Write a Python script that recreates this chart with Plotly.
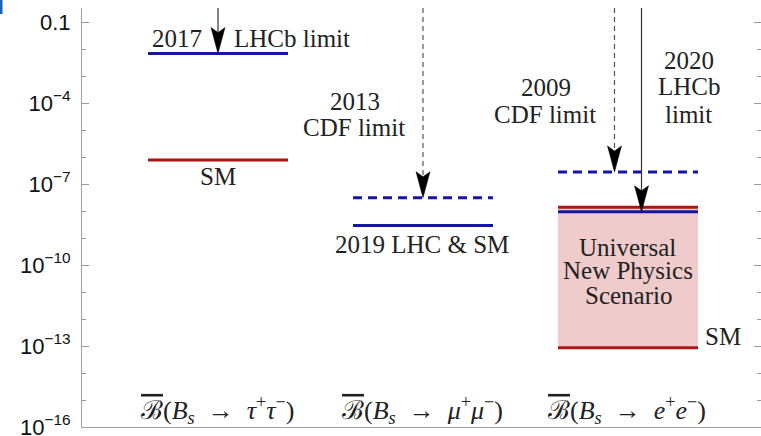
import plotly.graph_objects as go

# ---------------- data ----------------
categories = ["tau", "mu", "e"]
cat_pos = [0, 1, 2]
SP = "\u2002"
cat_labels = [
    "<span style='text-decoration:overline'>ℬ</span>(<i>B<sub>s</sub></i>" + SP + "→" + SP + "<i>τ</i><sup>+</sup><i>τ</i><sup>−</sup>)",
    "<span style='text-decoration:overline'>ℬ</span>(<i>B<sub>s</sub></i>" + SP + "→" + SP + "<i>μ</i><sup>+</sup><i>μ</i><sup>−</sup>)",
    "<span style='text-decoration:overline'>ℬ</span>(<i>B<sub>s</sub></i>" + SP + "→" + SP + "<i>e</i><sup>+</sup><i>e</i><sup>−</sup>)",
]
tau_lhcb_2017 = 6.8e-3
tau_sm = 7.7e-7
mu_cdf_2013 = 3.1e-8
mu_lhc_sm_2019 = 2.9e-9
e_cdf_2009 = 2.8e-7
e_lhcb_2020 = 9.4e-9
e_unp_upper = 1.37e-8
e_sm = 8.6e-14

tick_vals = [1e-1, 1e-4, 1e-7, 1e-10, 1e-13, 1e-16]
tick_text = ["0.1", "10<sup>−4</sup>", "10<sup>−7</sup>", "10<sup>−10</sup>",
             "10<sup>−13</sup>", "10<sup>−16</sup>"]
minor_vals = [10.0 ** -k for k in range(0, 17)]

# ---------------- styling / layout ----------------
BLUE = "#1515A8"
RED = "#B01515"
FILL = "#EFCBCB"
W, H = 761, 436
ML, MR, MT, MB = 82, 0, 8, 9
PW, PH = W - ML - MR, H - MT - MB
X_UNIT = 205.0          # pixels per category
X0_PIX = 218.0          # pixel x of category 0
LOG_MIN, LOG_MAX = -16, -0.48
PX_PER_DEC = PH / (LOG_MAX - LOG_MIN)
HALF = 70 / X_UNIT      # segment half width

def xp(pix):            # pixel x -> data x
    return (pix - X0_PIX) / X_UNIT

def yp(pix):            # pixel y -> paper y
    return (H - MB - pix) / PH

fig = go.Figure()

# shaded universal NP band
c = cat_pos[2]
fig.add_trace(go.Scatter(
    x=[c - HALF, c + HALF, c + HALF, c - HALF, c - HALF],
    y=[e_sm, e_sm, e_unp_upper, e_unp_upper, e_sm],
    fill="toself", fillcolor=FILL, line=dict(width=0), mode="lines",
    hoverinfo="skip", showlegend=False))

segments = [
    (0, tau_lhcb_2017, BLUE, "solid"),
    (0, tau_sm, RED, "solid"),
    (1, mu_cdf_2013, BLUE, "9px,6px"),
    (1, mu_lhc_sm_2019, BLUE, "solid"),
    (2, e_cdf_2009, BLUE, "9px,6px"),
    (2, e_unp_upper, RED, "solid"),
    (2, e_lhcb_2020, BLUE, "solid"),
    (2, e_sm, RED, "solid"),
]
for ci, v, col, dash in segments:
    xc = cat_pos[ci]
    fig.add_trace(go.Scatter(
        x=[xc - HALF, xc + HALF], y=[v, v], mode="lines",
        line=dict(color=col, width=3, dash=dash),
        hoverinfo="skip", showlegend=False))

# arrows: (category, pixel offset, target value, dashed?)
arrows = [
    (0, 0.0, tau_lhcb_2017, False),
    (1, 0.0, mu_cdf_2013, True),
    (2, -13.5, e_cdf_2009, True),
    (2, 13.5, e_lhcb_2020, False),
]
HEAD_LEN, HEAD_NOTCH, HEAD_HW = 26.0, 21.0, 7.0
k_back = 10 ** (HEAD_LEN / PX_PER_DEC)
k_notch = 10 ** (HEAD_NOTCH / PX_PER_DEC)
top_val = 10 ** LOG_MAX
for ci, off, v, dashed in arrows:
    xa = cat_pos[ci] + off / X_UNIT
    fig.add_trace(go.Scatter(
        x=[xa, xa], y=[top_val, v * k_notch], mode="lines",
        line=dict(color="#555555" if dashed else "#333333", width=1.2,
                  dash="5px,4px" if dashed else "solid"),
        hoverinfo="skip", showlegend=False))
    hw = HEAD_HW / X_UNIT
    fig.add_trace(go.Scatter(
        x=[xa, xa - hw, xa, xa + hw, xa],
        y=[v, v * k_back, v * k_notch, v * k_back, v],
        fill="toself", fillcolor="black", mode="lines",
        line=dict(color="black", width=0.5),
        hoverinfo="skip", showlegend=False))

# invisible trace for the mirrored right axis
fig.add_trace(go.Scatter(x=[cat_pos[0]], y=[tau_sm], yaxis="y2", mode="markers",
                         marker=dict(opacity=0), hoverinfo="skip",
                         showlegend=False))

# ---------------- text ----------------
SERIF = "Liberation Serif"
TXT = dict(family=SERIF, size=25, color="#222222")
texts = [
    ("2017", 177, 38),
    ("LHCb limit", 292, 38),
    ("SM", 218, 176),
    ("2013", 355, 101.5),
    ("CDF limit", 354, 128),
    ("2019 LHC &amp; SM", 422, 244.5),
    ("2009", 546, 87),
    ("CDF limit", 545, 114.5),
    ("2020", 689, 60),
    ("LHCb", 689, 86.5),
    ("limit", 688, 114),
    ("Universal", 627, 247.5),
    ("New Physics", 628, 270),
    ("Scenario", 628, 295),
    ("SM", 723, 336.5),
]
for t, px, py in texts:
    fig.add_annotation(x=xp(px), y=yp(py), xref="x", yref="paper", text=t,
                       showarrow=False, font=TXT, xanchor="center",
                       yanchor="middle")

for ci, lab in zip(cat_pos, cat_labels):
    fig.add_annotation(x=ci + xp(218 - 1), y=yp(410), xref="x", yref="paper",
                       text=lab, showarrow=False,
                       font=dict(family=SERIF, size=26, color="#222222"),
                       xanchor="center", yanchor="middle")

# stray blue mark at the top-left corner
fig.add_shape(type="rect", xref="paper", yref="paper",
              x0=-ML / PW, x1=(2.5 - ML) / PW, y0=yp(14), y1=yp(0),
              fillcolor="#1565C0", line=dict(width=0), layer="above")

axis_common = dict(
    type="log", range=[LOG_MIN, LOG_MAX], tickmode="array",
    tickvals=tick_vals, ticks="inside", ticklen=7, tickcolor="#9A9A9A",
    tickwidth=1, showgrid=False, zeroline=False, automargin=False,
    minor=dict(tickmode="array", tickvals=minor_vals, ticks="inside",
               ticklen=4, tickcolor="#9A9A9A", tickwidth=1, showgrid=False),
)
fig.update_layout(
    width=W, height=H,
    margin=dict(l=ML, r=MR, t=MT, b=MB, pad=0, autoexpand=False),
    paper_bgcolor="white", plot_bgcolor="white",
    showlegend=False,
    xaxis=dict(range=[xp(ML), xp(W - MR)], showgrid=False, zeroline=False,
               showticklabels=False, ticks="", showline=True, automargin=False,
               linecolor="#A0A0A0", linewidth=1),
    yaxis=dict(**axis_common, ticktext=tick_text, showline=True,
               linecolor="#A0A0A0", linewidth=1, ticklabelstandoff=6,
               ticklabeloverflow="allow",
               tickfont=dict(family="Liberation Sans", size=22, color="#111111")),
    yaxis2=dict(**axis_common, overlaying="y", side="right", anchor="x",
                showticklabels=False, showline=False),
)

fig.write_html("out.html",
               config={"displayModeBar": False},
               post_script="document.body.style.margin='0';"
                           "document.body.style.overflow='hidden';")
